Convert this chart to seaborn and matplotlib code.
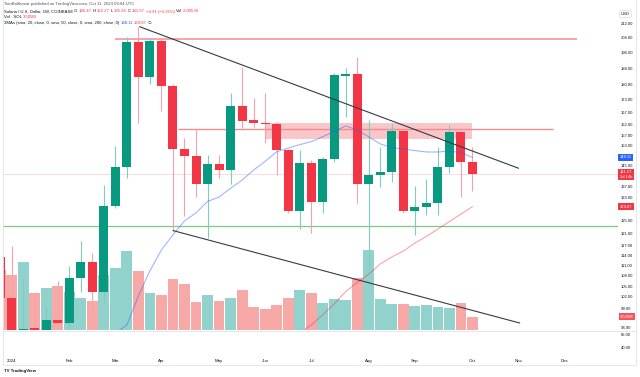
import numpy as np
import pandas as pd
import matplotlib
matplotlib.use("Agg")
import matplotlib.pyplot as plt
import matplotlib.transforms as mtransforms
from matplotlib.ticker import FixedLocator, NullLocator, FuncFormatter
from matplotlib.lines import Line2D
import seaborn as sns

# ---------------- data (weekly SOL/USD, Coinbase) ----------------
weeks = pd.date_range("2023-12-25", periods=42, freq="W-MON")
opens = [113.6, 101.6, 92.8, 93.8, 93.0, 95.8, 95.2, 107.2, 112.1, 103.2, 130.1, 144.5,
         201.9, 183.9, 202.5, 179.5, 151.4, 148.7, 137.8, 145.5, 143.2, 170.0, 163.6,
         162.6, 161.9, 151.1, 128.3, 146.1, 131.4, 147.5, 184.2, 185.0, 138.0, 141.3,
         142.4, 159.1, 128.3, 129.8, 131.0, 144.5, 158.4, 146.47]
highs = [117.0, 116.9, 107.0, 103.1, 99.3, 106.4, 110.8, 118.4, 114.8, 137.6, 152.7, 204.3,
         209.9, 203.8, 203.8, 180.5, 155.9, 159.4, 149.1, 149.1, 176.2, 188.8, 173.5,
         175.9, 163.0, 151.6, 151.1, 147.0, 148.4, 185.5, 188.3, 194.0, 163.8, 152.2,
         162.3, 159.5, 137.2, 139.7, 152.4, 161.6, 159.9, 152.27]
lows = [98.0, 88.0, 85.0, 86.0, 88.0, 90.0, 92.0, 103.4, 98.3, 100.3, 129.3, 140.1,
        162.3, 180.3, 167.9, 121.8, 126.5, 133.4, 119.3, 140.1, 137.8, 160.1, 160.8,
        153.8, 141.3, 127.7, 122.2, 120.9, 127.6, 146.5, 165.2, 131.0, 109.8, 137.0,
        138.8, 127.8, 120.4, 127.0, 127.0, 142.2, 133.1, 135.26]
closes = [101.6, 92.5, 93.7, 93.0, 95.9, 95.2, 107.2, 112.1, 103.2, 130.1, 144.5, 201.9,
          183.9, 202.5, 179.5, 151.4, 148.7, 137.8, 145.5, 143.2, 170.0, 163.3, 162.6,
          161.9, 151.1, 128.3, 146.1, 131.4, 147.5, 184.7, 185.0, 138.0, 141.3, 142.4,
          159.1, 128.3, 129.8, 131.0, 144.5, 158.4, 146.5, 141.57]
volumes_m = [15.8, 14.5, 17.8, 9.65, 10.97, 11.57, 10.07, 8.49, 7.63, 14.47, 16.23, 20.78,
             15.52, 9.81, 9.21, 13.41, 12.02, 7.36, 9.21, 7.63, 8.49, 10.52, 6.13,
             5.52, 6.58, 8.34, 10.52, 9.65, 7.02, 8.15, 7.89, 13.6, 21.04, 8.15,
             6.76, 6.84, 6.31, 6.58, 6.05, 5.79, 7.1, 3.505]
nan = np.nan
sma20 = [nan] * 10 + [92.5, 94.6, 102.2, 109.4, 115.7, 120.4, 125.0, 127.7, 131.7, 133.2,
                      136.4, 139.4, 143.2, 146.6, 150.4, 151.9, 153.3, 154.5, 156.6, 158.8,
                      161.2, 159.4, 156.5, 153.6, 152.1, 151.5, 150.9, 150.3, 150.3, 150.7,
                      150.0, 148.11]
sma50 = [nan] * 26 + [92.5, 94.6, 97.2, 100.1, 103.5, 106.0, 108.4, 111.4, 113.5, 115.3,
                      117.8, 119.9, 122.3, 124.8, 127.3, 129.87]

month_labels = ["2024", "Feb", "Mar", "Apr", "May", "Jun", "Jul", "Aug", "Sep", "Oct", "Nov", "Dec"]
month_idx = [0, 5, 9, 13, 18, 22, 26, 31, 35, 40, 44, 48]
price_ticks = [212, 204, 196, 188, 180, 173, 167, 162, 157, 153, 145, 137, 133, 125, 121,
               117, 114, 111, 108, 105, 102, 99, 93.9]

resist_level = 203.6
mid_level = 160.0
zone_low, zone_high = 155.5, 162.4
support_level = 123.3
upper_trend = ([11.1, 44.0], [210.2, 143.9])
lower_trend = ([14.0, 44.1], [121.8, 95.1])

# ---------------- style ----------------
sns.set_theme(style="white")
plt.rcParams['font.family'] = ['Liberation Sans', 'DejaVu Sans']

UP, DOWN = "#089981", "#f23645"
UP_W, DOWN_W = "#7fcdbf", "#f7a1a8"
UP_V, DOWN_V = "#92d2cc", "#f7a9a7"
TXT = "#131722"
FS = 3.0

W, H = 640, 377
fig = plt.figure(figsize=(6.4, 3.77), dpi=100)
fig.patch.set_facecolor("white")
L, R, T, B = 3, 618, 8, 330
pos = [L / W, 1 - B / H, (R - L) / W, (B - T) / H]
axv = fig.add_axes(pos)
ax = fig.add_axes(pos, sharex=axv)
ax.patch.set_alpha(0)

x = np.arange(-1, 41)
df = pd.DataFrame({"week": weeks, "i": x, "o": opens, "h": highs, "l": lows, "c": closes,
                   "v": volumes_m, "sma20": sma20, "sma50": sma50})
df["up"] = df["c"] >= df["o"]

# volume
axv.bar(df["i"], df["v"], width=0.94, color=np.where(df["up"], UP_V, DOWN_V), linewidth=0)
axv.set_ylim(0, 3.505 / 13.3 * (B - T))
axv.set_xlim((L - 11.7) / 11.52, (R - 11.7) / 11.52)
axv.axis("off")

# candles
ax.set_yscale("log")
ax.vlines(df["i"], df["l"], df["h"], colors=np.where(df["up"], UP_W, DOWN_W), lw=0.8, zorder=2)
bot = np.minimum(df["o"], df["c"]).values
top = np.maximum(df["o"], df["c"]).values
top = np.maximum(top, bot * 1.004)
ax.bar(df["i"], top - bot, bottom=bot, width=0.78,
       color=np.where(df["up"], UP, DOWN), linewidth=0, zorder=3)

# moving averages
sns.lineplot(data=df, x="i", y="sma20", ax=ax, color="#2962ff", alpha=0.45, lw=0.8, zorder=4)
sns.lineplot(data=df, x="i", y="sma50", ax=ax, color="#f23645", alpha=0.45, lw=0.8, zorder=4)

# drawings
ax.hlines(resist_level, 9.0, 49.1, color="#f28b92", lw=1.1, zorder=1)
ax.fill_between([22.0, 40.0], zone_low, zone_high, color="#f9c0c5", alpha=0.9, lw=0, zorder=1)
ax.hlines(mid_level, 14.4, 47.0, color="#f28b92", lw=1.0, zorder=1)
ax.axhline(support_level, color="#81c784", lw=0.9, zorder=1)
ax.axhline(closes[-1], color="#f23645", lw=0.5, alpha=0.25, zorder=1)
ax.plot(*upper_trend, color="#363a45", lw=0.8, zorder=5)
ax.plot(*lower_trend, color="#363a45", lw=0.8, zorder=5)

ax.set_ylim(93.34, 220.98)
ax.set_xlim((L - 11.7) / 11.52, (R - 11.7) / 11.52)
ax.yaxis.set_major_locator(FixedLocator(price_ticks))
ax.yaxis.set_minor_locator(NullLocator())
ax.yaxis.set_major_formatter(FuncFormatter(lambda v, p: f"{v:.2f}"))
ax.yaxis.tick_right()
ax.tick_params(axis="y", length=0, pad=2.2, labelsize=FS, colors=TXT)
ax.tick_params(axis="x", length=0, labelbottom=False)
ax.set_xlabel("")
ax.set_ylabel("")
for s in ax.spines.values():
    s.set_visible(False)

# right-axis colored labels
def tag(val, text, color, fc="white"):
    ax.text(1.003, val, text, transform=ax.get_yaxis_transform(), fontsize=FS, color=fc,
            va="center", ha="left", linespacing=1.15,
            bbox=dict(boxstyle="square,pad=0.35", fc=color, ec="none"))

tag(148.11, "148.11", "#2962ff")
tag(141.57, "141.57\n2d 14h", "#f23645")
tag(129.87, "129.87", "#f23645")
fig.text(620 / W, 1 - 316.7 / H, "3.505M", fontsize=FS, color="white", va="center", ha="left",
         bbox=dict(boxstyle="square,pad=0.35", fc="#f7525f", ec="none"))
fig.text(621 / W, 1 - 14 / H, "USD", fontsize=FS, color=TXT, va="center", ha="left",
         bbox=dict(boxstyle="round,pad=0.35", fc="white", ec="#d1d4dc", lw=0.4))
fig.text(621 / W, 1 - 335 / H, "85.00", fontsize=FS, color=TXT, va="center", ha="left")
fig.text(621 / W, 1 - 347.7 / H, "40.00", fontsize=FS, color=TXT, va="center", ha="left")

# x axis month labels
trans = mtransforms.blended_transform_factory(ax.transData, fig.transFigure)
for lab, i in zip(month_labels, month_idx):
    ax.text(i, 1 - 360.7 / H, lab, transform=trans, fontsize=3.2, color=TXT,
            ha="center", va="center", clip_on=False)

# frame lines
gray = "#e0e3eb"
fig.add_artist(Line2D([3 / W, 3 / W], [1 - 0 / H, 1 - 365 / H], color=gray, lw=0.6))
fig.add_artist(Line2D([636 / W, 636 / W], [1 - 0 / H, 1 - 365 / H], color=gray, lw=0.6))
fig.add_artist(Line2D([3 / W, 636 / W], [1 - 330.7 / H, 1 - 330.7 / H], color=gray, lw=0.6))
fig.add_artist(Line2D([3 / W, 636 / W], [1 - 365 / H, 1 - 365 / H], color=gray, lw=0.6))

# header texts
fig.canvas.draw()
renderer = fig.canvas.get_renderer()

def seq(xpx, ypx, parts, size=3.1):
    xx = xpx
    for s, col in parts:
        t = fig.text(xx / W, 1 - ypx / H, s, fontsize=size, color=col, va="center", ha="left")
        bb = t.get_window_extent(renderer=renderer)
        xx += bb.width + 1.0

seq(4, 4.5, [("TomBalthazar published on TradingView.com, Oct 11, 2024 09:04 UTC", "#50535e")])
seq(4, 11.5, [("Solana / U.S. Dollar, 1W, COINBASE", TXT), ("O", TXT), ("146.47", DOWN),
              ("H", TXT), ("152.27", DOWN), ("L", TXT), ("135.26", DOWN), ("C", TXT),
              ("141.57", DOWN), ("\u22124.91 (\u22123.35%)", DOWN), ("Vol", TXT), ("2.005 M", DOWN)])
seq(4, 17.3, [("Vol \u00b7 SOL", TXT), ("3.505M", DOWN)])
seq(4, 23, [("3MAs (sma, 20, close, 0, sma, 50, close, 0, sma, 200, close, 0)", TXT),
            ("148.11", "#2962ff"), ("129.87", DOWN), ("\u2205", TXT)])

fig.text(4 / W, 1 - 371 / H, "TV TradingView", fontsize=3.2, color=TXT, weight="bold",
         va="center", ha="left")

fig.savefig("out.png", dpi=100)
